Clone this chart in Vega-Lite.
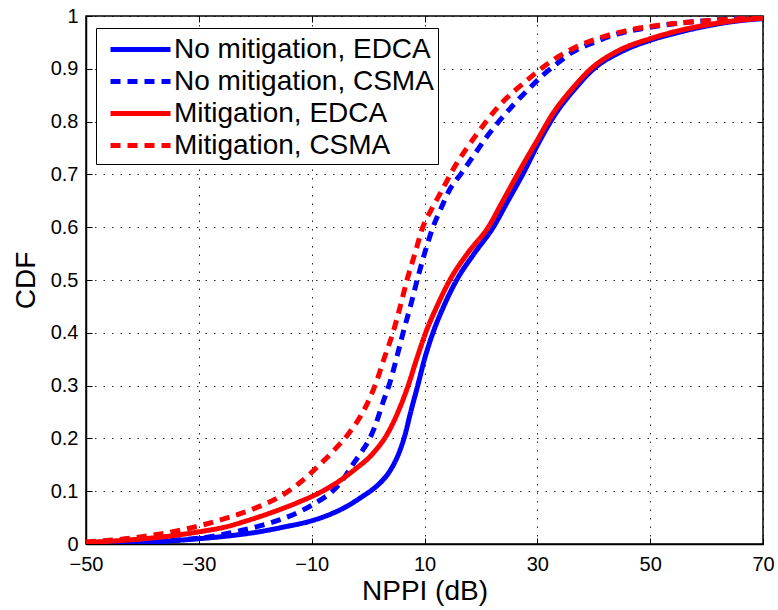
{
  "$schema": "https://vega.github.io/schema/vega-lite/v6.json",
  "width": 677,
  "height": 528,
  "autosize": "none",
  "padding": {"left": 86, "top": 16, "right": 15, "bottom": 66},
  "background": "white",
  "config": {
    "font": "Liberation Sans",
    "view": {"stroke": "black", "strokeWidth": 1.5},
    "axis": {
      "labelFont": "Liberation Sans",
      "labelFontSize": 20,
      "labelColor": "black",
      "titleFont": "Liberation Sans",
      "titleFontSize": 28,
      "titleFontWeight": "normal",
      "titleColor": "black",
      "domainColor": "black",
      "domainWidth": 1.5,
      "tickColor": "black",
      "tickWidth": 1,
      "tickSize": -6,
      "gridColor": "black",
      "gridOpacity": 0.85,
      "gridDash": [1.5, 7],
      "gridWidth": 1
    }
  },
  "data": {
    "values": [
      {"s": "No mitigation, EDCA", "x": -50, "y": 0},
      {"s": "No mitigation, EDCA", "x": -45, "y": 0.001},
      {"s": "No mitigation, EDCA", "x": -40, "y": 0.003},
      {"s": "No mitigation, EDCA", "x": -35, "y": 0.006},
      {"s": "No mitigation, EDCA", "x": -30, "y": 0.01},
      {"s": "No mitigation, EDCA", "x": -25, "y": 0.015},
      {"s": "No mitigation, EDCA", "x": -20, "y": 0.022},
      {"s": "No mitigation, EDCA", "x": -15, "y": 0.032},
      {"s": "No mitigation, EDCA", "x": -10, "y": 0.044},
      {"s": "No mitigation, EDCA", "x": -7, "y": 0.055},
      {"s": "No mitigation, EDCA", "x": -4, "y": 0.07},
      {"s": "No mitigation, EDCA", "x": -1, "y": 0.09},
      {"s": "No mitigation, EDCA", "x": 1, "y": 0.105},
      {"s": "No mitigation, EDCA", "x": 2.6, "y": 0.121},
      {"s": "No mitigation, EDCA", "x": 3.6, "y": 0.134},
      {"s": "No mitigation, EDCA", "x": 4.4, "y": 0.148},
      {"s": "No mitigation, EDCA", "x": 5.3, "y": 0.168},
      {"s": "No mitigation, EDCA", "x": 6.5, "y": 0.205},
      {"s": "No mitigation, EDCA", "x": 7.6, "y": 0.252},
      {"s": "No mitigation, EDCA", "x": 8.8, "y": 0.3},
      {"s": "No mitigation, EDCA", "x": 10, "y": 0.35},
      {"s": "No mitigation, EDCA", "x": 11.5, "y": 0.4},
      {"s": "No mitigation, EDCA", "x": 13.4, "y": 0.45},
      {"s": "No mitigation, EDCA", "x": 15.7, "y": 0.5},
      {"s": "No mitigation, EDCA", "x": 18.8, "y": 0.55},
      {"s": "No mitigation, EDCA", "x": 22.2, "y": 0.6},
      {"s": "No mitigation, EDCA", "x": 24.8, "y": 0.65},
      {"s": "No mitigation, EDCA", "x": 27.4, "y": 0.7},
      {"s": "No mitigation, EDCA", "x": 30.5, "y": 0.765},
      {"s": "No mitigation, EDCA", "x": 33.3, "y": 0.816},
      {"s": "No mitigation, EDCA", "x": 36.5, "y": 0.86},
      {"s": "No mitigation, EDCA", "x": 40, "y": 0.9},
      {"s": "No mitigation, EDCA", "x": 45, "y": 0.933},
      {"s": "No mitigation, EDCA", "x": 50, "y": 0.954},
      {"s": "No mitigation, EDCA", "x": 55, "y": 0.969},
      {"s": "No mitigation, EDCA", "x": 60, "y": 0.981},
      {"s": "No mitigation, EDCA", "x": 65, "y": 0.99},
      {"s": "No mitigation, EDCA", "x": 70, "y": 0.995},

      {"s": "No mitigation, CSMA", "x": -50, "y": 0},
      {"s": "No mitigation, CSMA", "x": -47, "y": 0.001},
      {"s": "No mitigation, CSMA", "x": -40, "y": 0.004},
      {"s": "No mitigation, CSMA", "x": -33, "y": 0.008},
      {"s": "No mitigation, CSMA", "x": -28, "y": 0.014},
      {"s": "No mitigation, CSMA", "x": -24.5, "y": 0.021},
      {"s": "No mitigation, CSMA", "x": -20, "y": 0.032},
      {"s": "No mitigation, CSMA", "x": -15.6, "y": 0.046},
      {"s": "No mitigation, CSMA", "x": -12, "y": 0.062},
      {"s": "No mitigation, CSMA", "x": -8.5, "y": 0.083},
      {"s": "No mitigation, CSMA", "x": -6.3, "y": 0.1},
      {"s": "No mitigation, CSMA", "x": -4.6, "y": 0.12},
      {"s": "No mitigation, CSMA", "x": -3, "y": 0.146},
      {"s": "No mitigation, CSMA", "x": -1, "y": 0.177},
      {"s": "No mitigation, CSMA", "x": 0.3, "y": 0.2},
      {"s": "No mitigation, CSMA", "x": 1.3, "y": 0.225},
      {"s": "No mitigation, CSMA", "x": 2.6, "y": 0.267},
      {"s": "No mitigation, CSMA", "x": 3.9, "y": 0.307},
      {"s": "No mitigation, CSMA", "x": 5, "y": 0.35},
      {"s": "No mitigation, CSMA", "x": 6.2, "y": 0.4},
      {"s": "No mitigation, CSMA", "x": 7.5, "y": 0.45},
      {"s": "No mitigation, CSMA", "x": 8.7, "y": 0.5},
      {"s": "No mitigation, CSMA", "x": 10, "y": 0.55},
      {"s": "No mitigation, CSMA", "x": 11.5, "y": 0.6},
      {"s": "No mitigation, CSMA", "x": 12.9, "y": 0.635},
      {"s": "No mitigation, CSMA", "x": 14.4, "y": 0.67},
      {"s": "No mitigation, CSMA", "x": 16.6, "y": 0.703},
      {"s": "No mitigation, CSMA", "x": 19, "y": 0.74},
      {"s": "No mitigation, CSMA", "x": 21.3, "y": 0.775},
      {"s": "No mitigation, CSMA", "x": 23.4, "y": 0.803},
      {"s": "No mitigation, CSMA", "x": 25.7, "y": 0.831},
      {"s": "No mitigation, CSMA", "x": 28.3, "y": 0.86},
      {"s": "No mitigation, CSMA", "x": 31, "y": 0.888},
      {"s": "No mitigation, CSMA", "x": 33.5, "y": 0.91},
      {"s": "No mitigation, CSMA", "x": 36, "y": 0.93},
      {"s": "No mitigation, CSMA", "x": 40, "y": 0.95},
      {"s": "No mitigation, CSMA", "x": 44, "y": 0.965},
      {"s": "No mitigation, CSMA", "x": 49, "y": 0.977},
      {"s": "No mitigation, CSMA", "x": 54, "y": 0.985},
      {"s": "No mitigation, CSMA", "x": 61, "y": 0.992},
      {"s": "No mitigation, CSMA", "x": 70, "y": 0.997},

      {"s": "Mitigation, EDCA", "x": -50, "y": 0.003},
      {"s": "Mitigation, EDCA", "x": -42, "y": 0.008},
      {"s": "Mitigation, EDCA", "x": -36, "y": 0.014},
      {"s": "Mitigation, EDCA", "x": -30, "y": 0.023},
      {"s": "Mitigation, EDCA", "x": -25, "y": 0.033},
      {"s": "Mitigation, EDCA", "x": -21.5, "y": 0.044},
      {"s": "Mitigation, EDCA", "x": -17, "y": 0.06},
      {"s": "Mitigation, EDCA", "x": -12.6, "y": 0.078},
      {"s": "Mitigation, EDCA", "x": -9, "y": 0.095},
      {"s": "Mitigation, EDCA", "x": -5, "y": 0.12},
      {"s": "Mitigation, EDCA", "x": -2.5, "y": 0.14},
      {"s": "Mitigation, EDCA", "x": 0.9, "y": 0.172},
      {"s": "Mitigation, EDCA", "x": 3.6, "y": 0.212},
      {"s": "Mitigation, EDCA", "x": 5.5, "y": 0.255},
      {"s": "Mitigation, EDCA", "x": 7.1, "y": 0.3},
      {"s": "Mitigation, EDCA", "x": 8.6, "y": 0.35},
      {"s": "Mitigation, EDCA", "x": 10.2, "y": 0.4},
      {"s": "Mitigation, EDCA", "x": 12.2, "y": 0.45},
      {"s": "Mitigation, EDCA", "x": 14.5, "y": 0.5},
      {"s": "Mitigation, EDCA", "x": 17.6, "y": 0.55},
      {"s": "Mitigation, EDCA", "x": 21.3, "y": 0.6},
      {"s": "Mitigation, EDCA", "x": 23.9, "y": 0.65},
      {"s": "Mitigation, EDCA", "x": 26.9, "y": 0.708},
      {"s": "Mitigation, EDCA", "x": 30, "y": 0.765},
      {"s": "Mitigation, EDCA", "x": 32.8, "y": 0.816},
      {"s": "Mitigation, EDCA", "x": 36, "y": 0.86},
      {"s": "Mitigation, EDCA", "x": 39.5, "y": 0.9},
      {"s": "Mitigation, EDCA", "x": 44.5, "y": 0.935},
      {"s": "Mitigation, EDCA", "x": 50, "y": 0.957},
      {"s": "Mitigation, EDCA", "x": 55, "y": 0.972},
      {"s": "Mitigation, EDCA", "x": 60, "y": 0.983},
      {"s": "Mitigation, EDCA", "x": 65, "y": 0.991},
      {"s": "Mitigation, EDCA", "x": 70, "y": 0.996},

      {"s": "Mitigation, CSMA", "x": -50, "y": 0.004},
      {"s": "Mitigation, CSMA", "x": -42, "y": 0.011},
      {"s": "Mitigation, CSMA", "x": -38, "y": 0.017},
      {"s": "Mitigation, CSMA", "x": -33.3, "y": 0.026},
      {"s": "Mitigation, CSMA", "x": -29, "y": 0.037},
      {"s": "Mitigation, CSMA", "x": -24.5, "y": 0.051},
      {"s": "Mitigation, CSMA", "x": -20, "y": 0.068},
      {"s": "Mitigation, CSMA", "x": -15.6, "y": 0.09},
      {"s": "Mitigation, CSMA", "x": -12, "y": 0.117},
      {"s": "Mitigation, CSMA", "x": -8.5, "y": 0.151},
      {"s": "Mitigation, CSMA", "x": -6, "y": 0.178},
      {"s": "Mitigation, CSMA", "x": -3.6, "y": 0.207},
      {"s": "Mitigation, CSMA", "x": -1.4, "y": 0.241},
      {"s": "Mitigation, CSMA", "x": 0.3, "y": 0.276},
      {"s": "Mitigation, CSMA", "x": 1.4, "y": 0.305},
      {"s": "Mitigation, CSMA", "x": 2.8, "y": 0.35},
      {"s": "Mitigation, CSMA", "x": 4.4, "y": 0.4},
      {"s": "Mitigation, CSMA", "x": 5.7, "y": 0.45},
      {"s": "Mitigation, CSMA", "x": 6.9, "y": 0.5},
      {"s": "Mitigation, CSMA", "x": 8.3, "y": 0.55},
      {"s": "Mitigation, CSMA", "x": 9.7, "y": 0.6},
      {"s": "Mitigation, CSMA", "x": 11.3, "y": 0.635},
      {"s": "Mitigation, CSMA", "x": 13.1, "y": 0.67},
      {"s": "Mitigation, CSMA", "x": 15, "y": 0.708},
      {"s": "Mitigation, CSMA", "x": 17.5, "y": 0.75},
      {"s": "Mitigation, CSMA", "x": 19.8, "y": 0.784},
      {"s": "Mitigation, CSMA", "x": 22.1, "y": 0.816},
      {"s": "Mitigation, CSMA", "x": 24.6, "y": 0.845},
      {"s": "Mitigation, CSMA", "x": 27.8, "y": 0.875},
      {"s": "Mitigation, CSMA", "x": 31, "y": 0.903},
      {"s": "Mitigation, CSMA", "x": 34, "y": 0.925},
      {"s": "Mitigation, CSMA", "x": 37, "y": 0.942},
      {"s": "Mitigation, CSMA", "x": 41.5, "y": 0.96},
      {"s": "Mitigation, CSMA", "x": 46.5, "y": 0.974},
      {"s": "Mitigation, CSMA", "x": 52, "y": 0.983},
      {"s": "Mitigation, CSMA", "x": 60, "y": 0.991},
      {"s": "Mitigation, CSMA", "x": 70, "y": 0.997}
    ]
  },
  "resolve": {"axis": {"x": "independent", "y": "independent"}},
  "layer": [
    {
      "mark": {"type": "line", "strokeWidth": 5, "interpolate": "monotone", "clip": true},
      "encoding": {
        "x": {
          "field": "x", "type": "quantitative", "title": "NPPI (dB)",
          "scale": {"domain": [-50, 70], "nice": false, "zero": false},
          "axis": {"orient": "bottom", "values": [-50, -30, -10, 10, 30, 50, 70], "labelPadding": 16, "titlePadding": 3, "labelFlush": false}
        },
        "y": {
          "field": "y", "type": "quantitative", "title": "CDF",
          "scale": {"domain": [0, 1], "nice": false},
          "axis": {"orient": "left", "values": [0, 0.1, 0.2, 0.3, 0.4, 0.5, 0.6, 0.7, 0.8, 0.9, 1], "format": "~g", "labelPadding": 14, "titlePadding": 10, "labelFlush": false}
        },
        "color": {
          "field": "s", "type": "nominal",
          "scale": {"domain": ["No mitigation, EDCA", "No mitigation, CSMA", "Mitigation, EDCA", "Mitigation, CSMA"], "range": ["#0000ff", "#0000ff", "#ff0000", "#ff0000"]},
          "legend": {
            "orient": "none", "legendX": 10, "legendY": 12, "title": null,
            "symbolType": "M-2,0H2", "symbolSize": 900, "symbolStrokeWidth": 5,
            "symbolOffset": 23, "labelOffset": 16, "labelLimit": 500,
            "labelFont": "Liberation Sans", "labelFontSize": 28, "labelColor": "black",
            "rowPadding": 0, "padding": 4,
            "strokeColor": "black", "fillColor": "white"
          }
        },
        "strokeDash": {
          "field": "s", "type": "nominal",
          "scale": {"domain": ["No mitigation, EDCA", "No mitigation, CSMA", "Mitigation, EDCA", "Mitigation, CSMA"], "range": [[1, 0], [10, 7], [1, 0], [10, 7]]},
          "legend": {
            "orient": "none", "legendX": 10, "legendY": 12, "title": null,
            "symbolType": "M-2,0H2", "symbolSize": 900, "symbolStrokeWidth": 5,
            "symbolOffset": 23, "labelOffset": 16, "labelLimit": 500,
            "labelFont": "Liberation Sans", "labelFontSize": 28, "labelColor": "black",
            "rowPadding": 0, "padding": 4,
            "strokeColor": "black", "fillColor": "white"
          }
        }
      }
    },
    {
      "mark": {"type": "line", "opacity": 0},
      "encoding": {
        "x": {"field": "x", "type": "quantitative", "axis": {"orient": "top", "labels": false, "grid": false, "domain": false, "title": null, "values": [-50, -30, -10, 10, 30, 50, 70]}},
        "y": {"field": "y", "type": "quantitative", "axis": {"orient": "right", "labels": false, "grid": false, "domain": false, "title": null, "values": [0, 0.1, 0.2, 0.3, 0.4, 0.5, 0.6, 0.7, 0.8, 0.9, 1]}},
        "detail": {"field": "s"}
      }
    }
  ]
}
